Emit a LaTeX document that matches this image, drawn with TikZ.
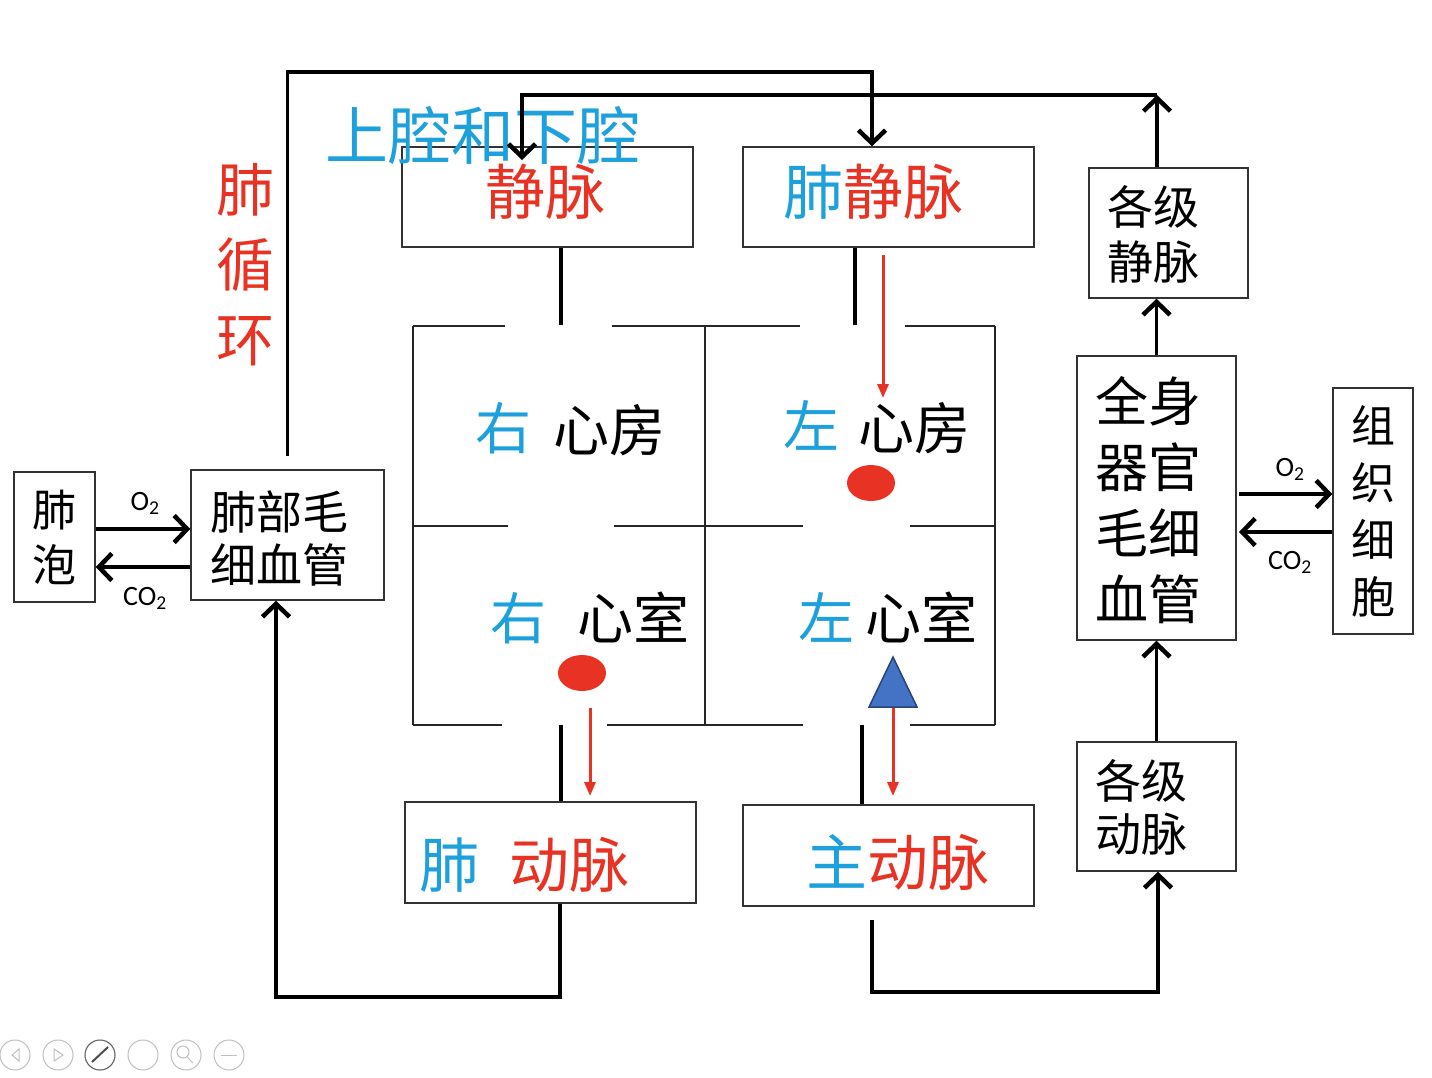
\documentclass[tikz,border=0pt]{standalone}
\usepackage{fontspec}
\setmainfont{Noto Sans CJK SC}
\newfontfamily\lat{Carlito}
\usetikzlibrary{arrows.meta}
\definecolor{cblue}{RGB}{30,160,220}
\definecolor{cred}{RGB}{232,50,35}
\definecolor{tblue}{RGB}{68,114,196}
\begin{document}
\begin{tikzpicture}[x=1pt,y=-1pt,
  box/.style={draw=black!80,line width=1.4pt,inner sep=0pt,align=center},
  txt/.style={inner sep=0pt,align=center},
  conn/.style={line width=3.5pt,black},
  arr/.style={conn,-{Straight Barb[length=13pt,width=27pt,line width=4.5pt]}},
  vessel/.style={line width=4.5pt,black},
  wall/.style={line width=1.5pt,black!85},
  redarr/.style={cred,line width=3pt,-{Triangle[length=14pt,width=11pt]}},
  lbl/.style={inner sep=0pt,font=\lat\fontsize{28}{28}\selectfont},
  tool/.style={draw=black!25,line width=1pt}]
\useasboundingbox (0,0) rectangle (1432,1077);

% boxes
\node[box,minimum width=291pt,minimum height=100pt] (jm) at (547.5,197) {};
\node[box,minimum width=291pt,minimum height=100pt] (fjm) at (888.5,197) {};
\node[box,minimum width=159pt,minimum height=130pt] (gjjm) at (1168.5,233) {};
\node[box,minimum width=159pt,minimum height=284pt] (qs) at (1156.5,498) {};
\node[box,minimum width=80pt,minimum height=246pt,font=\fontsize{44}{57}\selectfont] (zz) at (1373,511) {组\\织\\细\\胞};
\node[box,minimum width=159pt,minimum height=129pt] (gjdm) at (1156.5,806.5) {};
\node[box,minimum width=291pt,minimum height=101pt] (zdm) at (888.5,855.5) {};
\node[box,minimum width=291pt,minimum height=101pt] (fdm) at (550.5,852.5) {};
\node[box,minimum width=193pt,minimum height=130pt] (fbmx) at (287.5,535) {};
\node[box,minimum width=81pt,minimum height=130pt,font=\fontsize{44}{55}\selectfont] (fp) at (54.5,537) {肺\\泡};

% box texts
\node[txt,font=\fontsize{46}{55}\selectfont] (tgjjm) at (1153,234) {各级\\静脉};
\node[txt,font=\fontsize{53}{66}\selectfont] (tqs) at (1148,500) {全身\\器官\\毛细\\血管};
\node[txt,font=\fontsize{46}{53}\selectfont] (tgjdm) at (1141,807) {各级\\动脉};
\node[txt,font=\fontsize{46}{53}\selectfont] (tfbmx) at (279,538) {肺部毛\\细血管};
\node[txt,text=cred,font=\fontsize{60}{60}\selectfont] (tjm) at (545,192) {静脉};
\node[txt,text=cblue,font=\fontsize{63}{63}\selectfont] (tsq) at (483,135) {上腔和下腔};
\node[txt,text=cred,font=\fontsize{60}{60}\selectfont] (tfjm) at (873,192) {\textcolor{cblue}{肺}静脉};
\node[txt,text=cred,font=\fontsize{61}{61}\selectfont] (tzdm) at (898,862) {\textcolor{cblue}{主}动脉};
\node[txt,text=cred,font=\fontsize{60}{60}\selectfont] (tfdm) at (524,865) {\textcolor{cblue}{肺}\hspace{0.5em}动脉};
\node[txt,text=cred,font=\fontsize{58}{75}\selectfont] (fxh) at (245,265) {肺\\循\\环};

% heart walls
\draw[wall] (413,326) -- (505,326) (612,326) -- (800,326) (905,326) -- (995,326);
\draw[wall] (413,526) -- (508,526) (614,526) -- (803,526) (910,526) -- (995,526);
\draw[wall] (413,725) -- (502,725) (607,725) -- (803,725) (910,725) -- (995,725);
\draw[wall] (413,326) -- (413,725) (705,326) -- (705,725) (995,326) -- (995,725);

% heart texts
\node[txt,text=cblue,font=\fontsize{56}{56}\selectfont] (r1) at (503,428) {右};
\node[txt,font=\fontsize{56}{56}\selectfont] (r2) at (609,430) {心房};
\node[txt,text=cblue,font=\fontsize{56}{56}\selectfont] (l1) at (811,425) {左};
\node[txt,font=\fontsize{56}{56}\selectfont] (l2) at (914,428) {心房};
\node[txt,text=cblue,font=\fontsize{56}{56}\selectfont] (r3) at (518,618) {右};
\node[txt,font=\fontsize{56}{56}\selectfont] (r4) at (633,617) {心室};
\node[txt,text=cblue,font=\fontsize{56}{56}\selectfont] (l3) at (826,617) {左};
\node[txt,font=\fontsize{56}{56}\selectfont] (l4) at (921,617) {心室};

% dots and triangle
\fill[cred] (871,483) ellipse [x radius=24, y radius=18];
\fill[cred] (582,673) ellipse [x radius=24, y radius=18];
\draw[fill=tblue,draw=tblue!60!black,line width=1.5pt] (893,657) -- (917,707) -- (869,707) -- cycle;

% vessel stubs
\draw[vessel] ([xshift=13.5pt]jm.south) -- (561,325);
\draw[vessel] ([xshift=-33.5pt]fjm.south) -- (855,325);
\draw[vessel] (561,725) -- ([xshift=10.5pt]fdm.north);
\draw[vessel] (862,725) -- ([xshift=-26.5pt]zdm.north);

% red arrows
\draw[redarr] (883,255) -- (883,398);
\draw[redarr] (590,708) -- (590,796);
\draw[redarr] (893,708) -- (893,796);

% connectors
\coordinate (t1) at (872,72);
\coordinate (t2) at (1157,95);
\coordinate (t3) at (522,160);
\draw[arr] ([yshift=13pt]fbmx.north) |- (t1) -- (t1 |- fjm.north);
\draw[arr] (t2 |- gjjm.north) -- (t2);
\draw[arr] (t2) -| (t3);
\draw[arr] ([xshift=9.5pt]fdm.south) -- (560,997) -| ([xshift=-11.5pt]fbmx.south);
\draw[arr] (872,920) -- (872,992) -| ([xshift=1.5pt]gjdm.south);
\draw[arr] (gjdm.north) -- (qs.south);
\draw[arr] (qs.north) -- (qs.north |- gjjm.south);

% gas exchange
\draw[arr] (fp.east |- 0,529) -- (fbmx.west |- 0,529);
\draw[arr] (fbmx.west |- 0,567) -- (fp.east |- 0,567);
\node[lbl] (o2a) at (145,503) {O\textsubscript{2}};
\node[lbl] (co2a) at (145,598) {CO\textsubscript{2}};
\draw[arr] (1239,494) -- (zz.west |- 0,494);
\draw[arr] (zz.west |- 0,532) -- (1239,532);
\node[lbl] (o2b) at (1290,469) {O\textsubscript{2}};
\node[lbl] (co2b) at (1290,562) {CO\textsubscript{2}};

% toolbar
\foreach \i/\x in {1/15,2/58,3/100,4/143,5/186,6/229}
  \draw[tool] (\x,1055) circle (15);
\draw[tool] (19,1049) -- (12,1055) -- (19,1061) -- cycle;
\draw[tool] (54,1049) -- (63,1055) -- (54,1061) -- cycle;
\draw[black!70,line width=2pt] (92,1062) -- (108,1047);
\draw[black!60,line width=1pt] (100,1055) circle (15);
\draw[tool] (183,1052) circle (6) (187,1057) -- (193,1063);
\draw[tool] (221,1055) -- (237,1055);
\end{tikzpicture}
\end{document}
